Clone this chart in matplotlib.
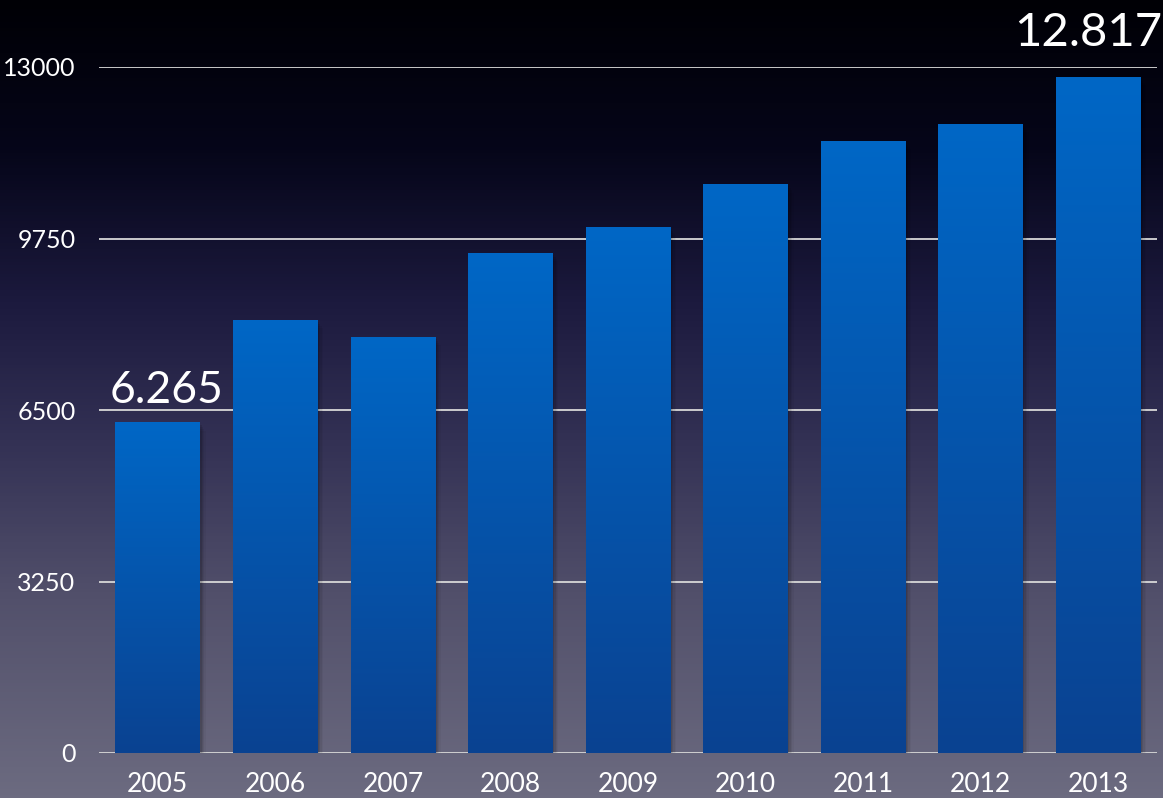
import numpy as np
import matplotlib.pyplot as plt
from matplotlib.colors import LinearSegmentedColormap
from matplotlib.patches import Rectangle

# data
years = ["2005", "2006", "2007", "2008", "2009", "2010", "2011", "2012", "2013"]
values = [6265, 8210, 7885, 9475, 9970, 10780, 11600, 11920, 12817]
y_ticks = [0, 3250, 6500, 9750, 13000]
labelled = {0: "6.265", 8: "12.817"}

plt.rcParams['font.family'] = ['Lato', 'DejaVu Sans']

fig = plt.figure(figsize=(11.63, 7.98), dpi=100)

# background gradient (black at top, grey-violet at bottom)
bg = fig.add_axes([0, 0, 1, 1])
bg_cmap = LinearSegmentedColormap.from_list("bg", [
    (0.00, (108/255, 107/255, 128/255)),
    (0.25, (82/255, 80/255, 107/255)),
    (0.44, (52/255, 50/255, 85/255)),
    (0.62, (28/255, 26/255, 62/255)),
    (0.81, (6/255, 6/255, 26/255)),
    (1.00, (0/255, 0/255, 5/255)),
])
grad = np.linspace(0, 1, 256).reshape(-1, 1)
bg.imshow(grad, aspect="auto", cmap=bg_cmap, origin="lower", extent=[0, 1, 0, 1])
bg.set_axis_off()

ax = fig.add_axes([99/1163, 45/798, 1058/1163, 686/798])
ax.patch.set_alpha(0)

bar_cmap = LinearSegmentedColormap.from_list("bar", [(10/255, 66/255, 145/255), (0/255, 103/255, 198/255)])
x = np.arange(len(years))
width = 0.72

for yv in y_ticks:
    ax.axhline(yv, color="#d8d8d8", lw=1.3, zorder=1)

bars = ax.bar(x, values, width=width, color="none", zorder=3)
for i, b in enumerate(bars):
    x0, w, h = b.get_x(), b.get_width(), b.get_height()
    # soft shadow
    for k, a in enumerate([0.10, 0.08, 0.06, 0.04]):
        off = 0.012 * (k + 1)
        ax.add_patch(Rectangle((x0 + off, 0), w, h - 40 * (k + 1), color="black",
                               alpha=a, lw=0, zorder=2))
    im = ax.imshow(grad, aspect="auto", cmap=bar_cmap, origin="lower",
                   extent=[x0, x0 + w, 0, h], zorder=3)
    im.set_clip_path(b)

for i, txt in labelled.items():
    if i == 0:
        offset, size = (6, 8), 32
    else:
        offset, size = (-7, 16), 34
    ax.annotate(txt, (x[i], values[i]), xytext=offset,
                textcoords="offset points", ha="center", va="bottom",
                color="white", fontsize=size, clip_on=False)

ax.set_xlim(-0.5, len(years) - 0.5)
ax.set_ylim(0, 13000)
ax.set_xticks(x)
ax.set_xticklabels(years)
ax.set_yticks(y_ticks)
ax.set_yticklabels([str(v) for v in y_ticks])
ax.tick_params(axis="both", length=0, colors="white", labelsize=18)
ax.tick_params(axis="y", pad=17)
ax.tick_params(axis="x", pad=14, labelsize=19)
for s in ax.spines.values():
    s.set_visible(False)

fig.savefig("out.png", dpi=100)
